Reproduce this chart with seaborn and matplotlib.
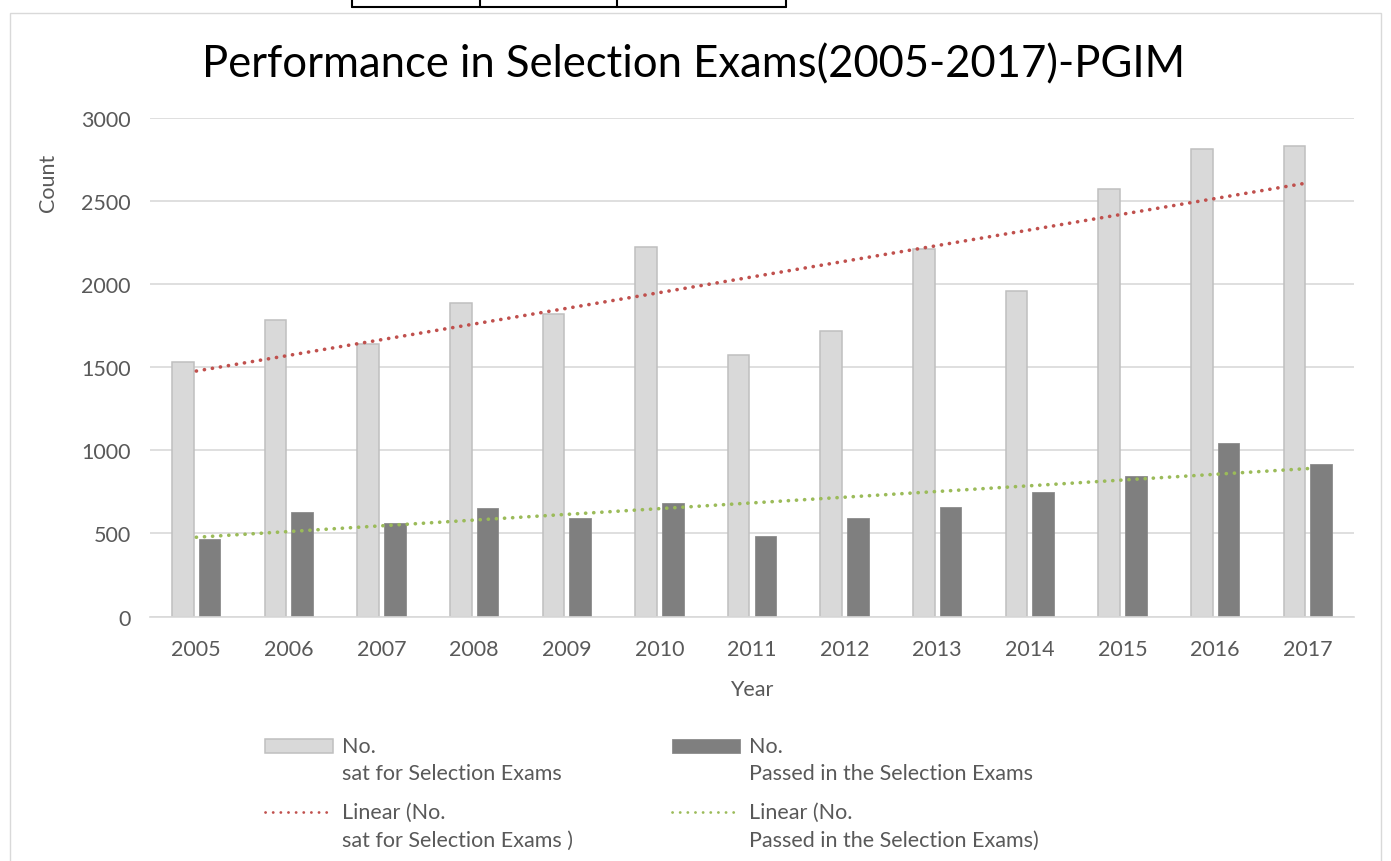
import numpy as np
import pandas as pd
import matplotlib
matplotlib.use("Agg")
import matplotlib.pyplot as plt
import seaborn as sns
from matplotlib.patches import Rectangle
from matplotlib.lines import Line2D
from matplotlib.legend_handler import HandlerBase

years = ["2005", "2006", "2007", "2008", "2009", "2010", "2011",
         "2012", "2013", "2014", "2015", "2016", "2017"]
sat = [1533, 1787, 1638, 1885, 1819, 2227, 1577, 1721, 2213, 1961, 2572, 2814, 2834]
passed = [465, 628, 566, 656, 592, 684, 482, 596, 658, 752, 848, 1044, 920]

label_sat = "No.\nsat for Selection Exams"
label_pass = "No.\nPassed in the Selection Exams"
label_sat_tr = "Linear (No.\nsat for Selection Exams )"
label_pass_tr = "Linear (No.\nPassed in the Selection Exams)"
title = "Performance in Selection Exams(2005-2017)-PGIM"
yticks = [0, 500, 1000, 1500, 2000, 2500, 3000]

sns.set_theme(style="white")
plt.rcParams["font.family"] = ["Lato", "DejaVu Sans"]

W, H = 1391, 862
fig = plt.figure(figsize=(W / 100, H / 100), dpi=100)
ax = fig.add_axes([150 / W, 1 - 617.5 / H, 1204 / W, 498.2 / H])

df = pd.DataFrame({
    "Year": years * 2,
    "Count": sat + passed,
    "Series": [label_sat] * len(years) + [label_pass] * len(years),
})
pal = {label_sat: "#D9D9D9", label_pass: "#7F7F7F"}
sns.barplot(data=df, x="Year", y="Count", hue="Series", order=years,
            hue_order=[label_sat, label_pass], palette=pal, width=0.576,
            gap=0.19, saturation=1, legend=False, errorbar=None, ax=ax, zorder=2)
for p in ax.containers[0].patches:
    p.set_edgecolor("#BFBFBF")
    p.set_linewidth(1.1)
for p in ax.containers[1].patches:
    p.set_edgecolor("#8C8C8C")
    p.set_linewidth(0.6)

idx = np.arange(len(years))
dot = (0, (0.05, 2.2))
sns.regplot(x=idx, y=np.array(sat, float), scatter=False, ci=None, truncate=True, ax=ax,
            line_kws=dict(color="#C0504D", lw=2.6, linestyle=dot,
                          dash_capstyle="round", zorder=3))
line_sat = ax.get_lines()[-1]
sns.regplot(x=idx, y=np.array(passed, float), scatter=False, ci=None, truncate=True, ax=ax,
            line_kws=dict(color="#9BBB59", lw=2.6, linestyle=dot,
                          dash_capstyle="round", zorder=3))
line_pass = ax.get_lines()[-1]

ax.set_xlim(-0.5, len(years) - 0.5)
ax.set_ylim(0, 3000)
ax.set_yticks(yticks)
ax.set_xticks(idx)
ax.set_xticklabels(years)
ax.yaxis.grid(True, color="#D9D9D9", lw=1.2, zorder=0)
ax.set_axisbelow(True)
for s in ["left", "right", "top"]:
    ax.spines[s].set_visible(False)
ax.spines["bottom"].set_color("#D9D9D9")
ax.spines["bottom"].set_linewidth(1.2)
ax.tick_params(axis="both", length=0, labelsize=15.5, labelcolor="#595959")
ax.tick_params(axis="y", pad=14)
ax.tick_params(axis="x", pad=16)
ax.set_xlabel("Year", fontsize=15.5, color="#595959")
ax.set_ylabel("Count", fontsize=15.5, color="#595959")
ax.xaxis.set_label_coords(0.5, -0.126)
ax.yaxis.set_label_coords(-0.0764, 0.872)

fig.suptitle(title, x=694 / W, y=1 - 77 / H, va="baseline",
             fontsize=31.4, color="#000000")


class ShiftHandler(HandlerBase):
    def __init__(self, shift, **kw):
        super().__init__(**kw)
        self.shift = shift

    def create_artists(self, legend, orig_handle, xdescent, ydescent,
                       width, height, fontsize, trans):
        if isinstance(orig_handle, Line2D):
            y = -ydescent + height / 2 + self.shift
            a = Line2D([-xdescent, -xdescent + width], [y, y])
            self.update_prop(a, orig_handle, legend)
            a.set_linewidth(2.0)
            a.set_linestyle((0, (0.05, 2.7)))
        else:
            a = Rectangle((-xdescent, -ydescent + self.shift), width, height)
            self.update_prop(a, orig_handle, legend)
        a.set_transform(trans)
        return [a]


handles = [ax.containers[0].patches[0], line_sat, ax.containers[1].patches[0], line_pass]
labels = [label_sat, label_sat_tr, label_pass, label_pass_tr]
hnd = ShiftHandler(10.1)
leg = fig.legend(handles, labels, ncol=2, loc="upper left",
                 bbox_to_anchor=(265 / W, 1 - 737 / H), frameon=False,
                 fontsize=15.5, handlelength=3.15, handleheight=0.6,
                 handletextpad=0.42, columnspacing=4.6, labelspacing=0.88,
                 borderpad=0, borderaxespad=0, labelcolor="#595959",
                 handler_map={Rectangle: hnd, Line2D: hnd})
for t in leg.get_texts():
    t.set_linespacing(1.46)

# chart frame
fig.add_artist(Rectangle((10 / W, -0.05), (1381 - 10) / W, 1.05 - 14 / H,
                         transform=fig.transFigure, fill=False,
                         edgecolor="#D9D9D9", lw=1.0))
# fragment of table above chart
for xx in [352, 480, 617, 786]:
    fig.add_artist(Line2D([xx / W, xx / W], [1.0, 1 - 8 / H],
                          transform=fig.transFigure, color="black", lw=1.5))
fig.add_artist(Line2D([352 / W, 786 / W], [1 - 8 / H, 1 - 8 / H],
                      transform=fig.transFigure, color="black", lw=1.5))

fig.savefig("out.png", dpi=100)
